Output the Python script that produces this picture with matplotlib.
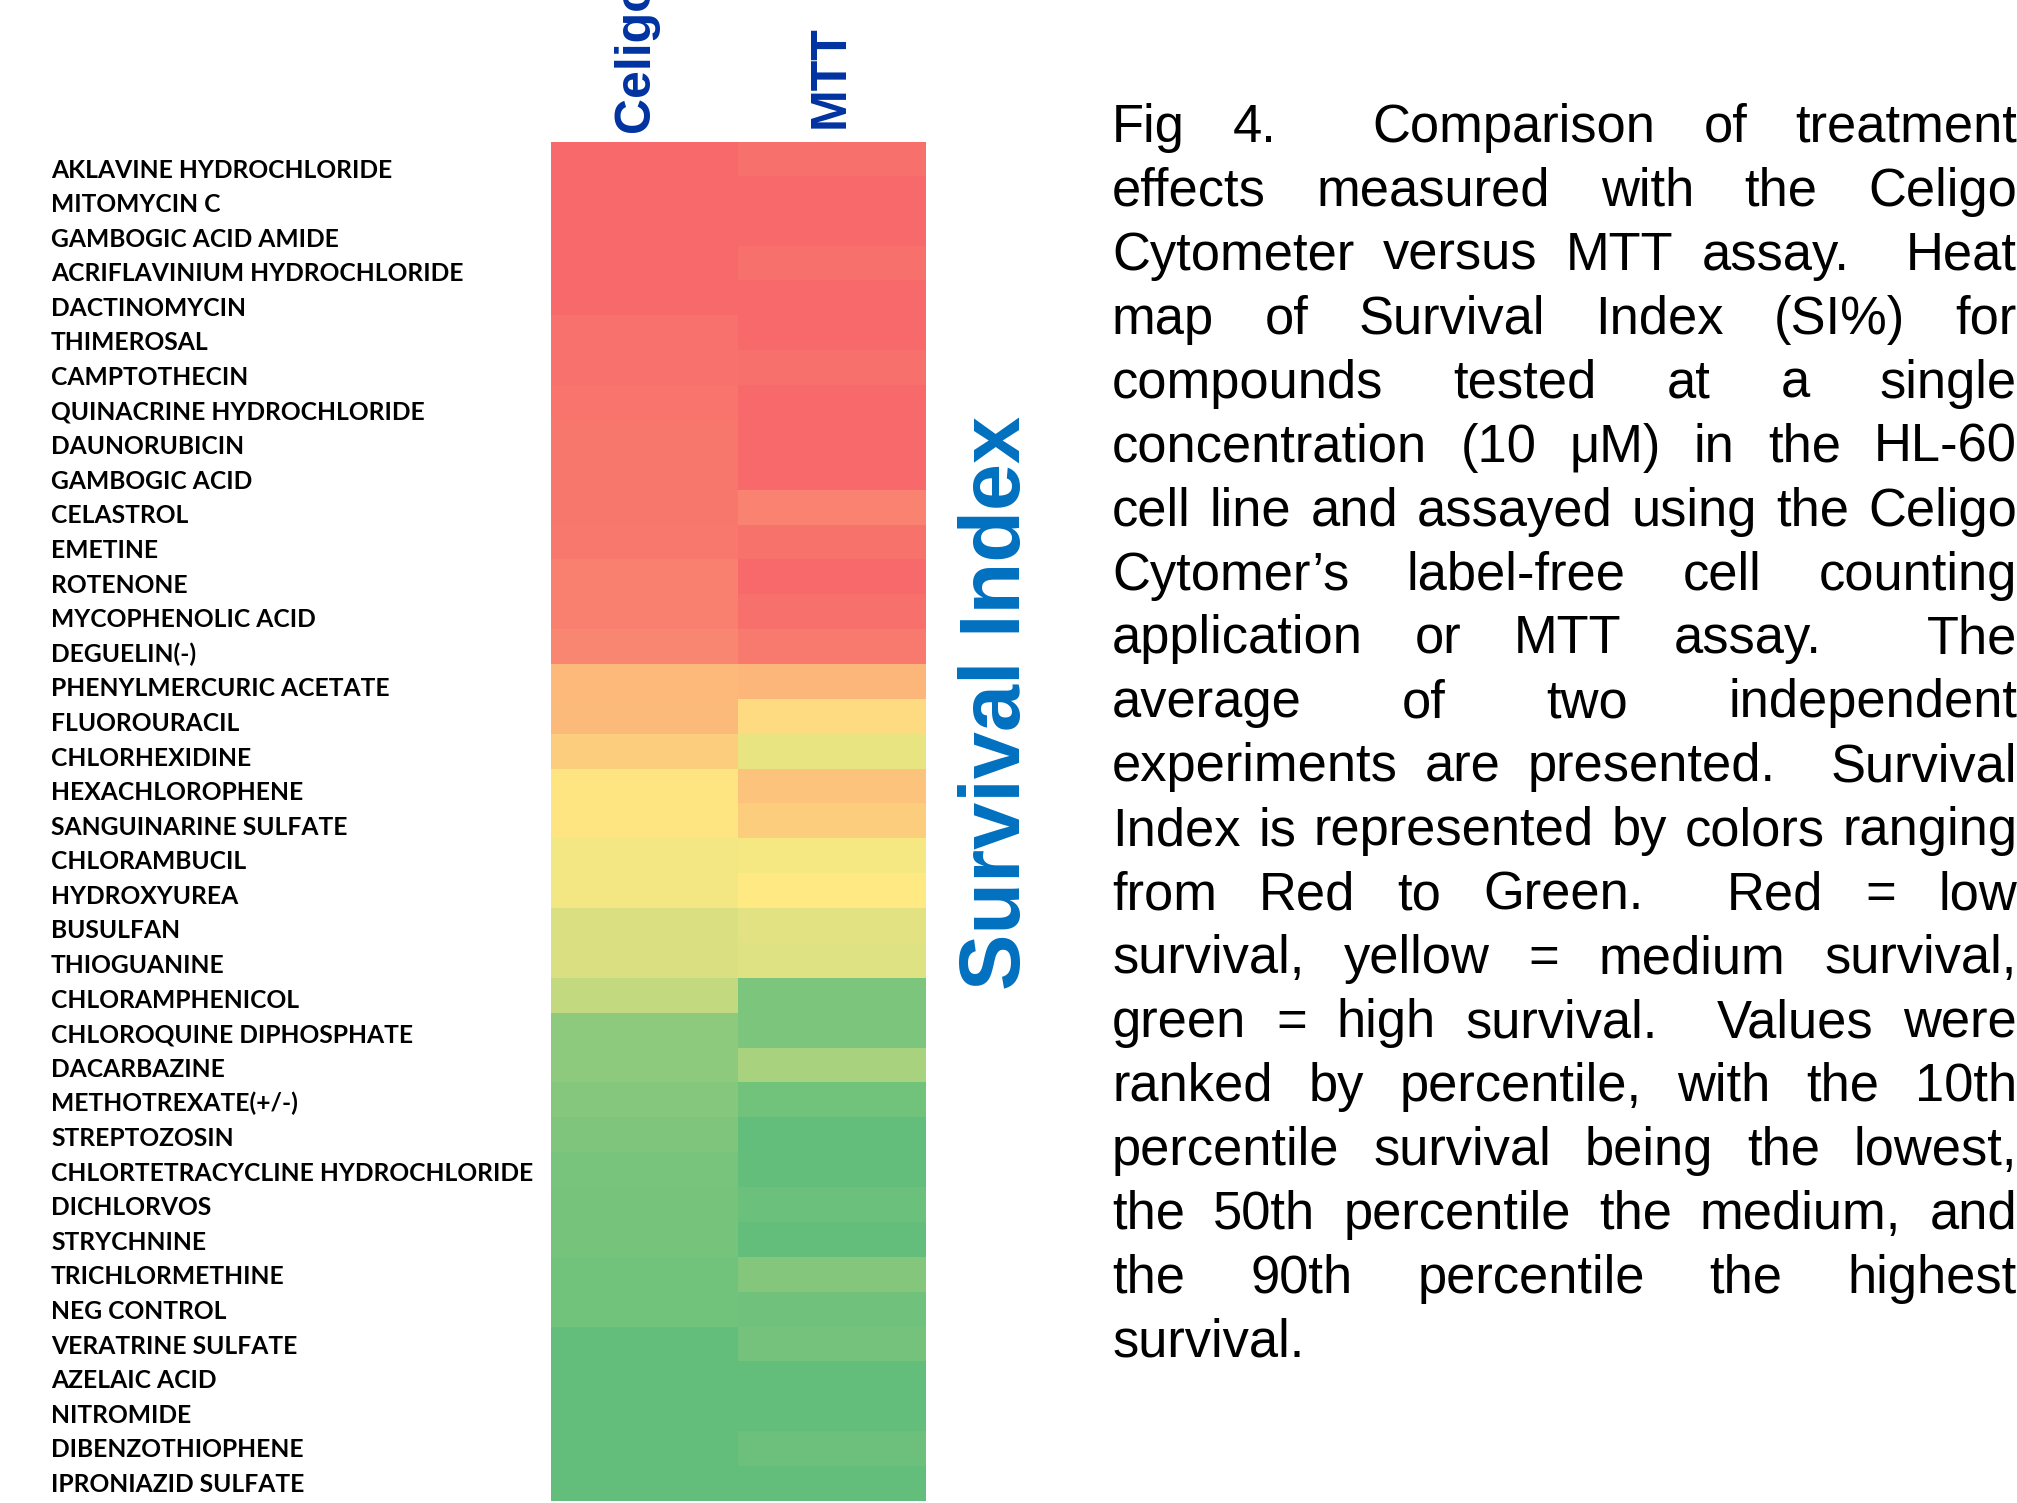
import numpy as np
import matplotlib
matplotlib.use('Agg')
import matplotlib.pyplot as plt
from matplotlib.colors import LinearSegmentedColormap

compounds = [
    'AKLAVINE HYDROCHLORIDE', 'MITOMYCIN C', 'GAMBOGIC ACID AMIDE',
    'ACRIFLAVINIUM HYDROCHLORIDE', 'DACTINOMYCIN', 'THIMEROSAL', 'CAMPTOTHECIN',
    'QUINACRINE HYDROCHLORIDE', 'DAUNORUBICIN', 'GAMBOGIC ACID', 'CELASTROL',
    'EMETINE', 'ROTENONE', 'MYCOPHENOLIC ACID', 'DEGUELIN(-)',
    'PHENYLMERCURIC ACETATE', 'FLUOROURACIL', 'CHLORHEXIDINE', 'HEXACHLOROPHENE',
    'SANGUINARINE SULFATE', 'CHLORAMBUCIL', 'HYDROXYUREA', 'BUSULFAN',
    'THIOGUANINE', 'CHLORAMPHENICOL', 'CHLOROQUINE DIPHOSPHATE', 'DACARBAZINE',
    'METHOTREXATE(+/-)', 'STREPTOZOSIN', 'CHLORTETRACYCLINE HYDROCHLORIDE',
    'DICHLORVOS', 'STRYCHNINE', 'TRICHLORMETHINE', 'NEG CONTROL',
    'VERATRINE SULFATE', 'AZELAIC ACID', 'NITROMIDE', 'DIBENZOTHIOPHENE',
    'IPRONIAZID SULFATE',
]
columns = ['Celigo', 'MTT']

# relative survival score (0 = lowest, 1 = highest)
celigo = [0.00, 0.00, 0.00, 0.00, 0.00, 0.035, 0.035, 0.045, 0.055, 0.055,
          0.058, 0.06, 0.088, 0.092, 0.115, 0.31, 0.315, 0.39, 0.48, 0.48,
          0.54, 0.54, 0.615, 0.615, 0.695, 0.862, 0.862, 0.888, 0.907, 0.926,
          0.936, 0.936, 0.952, 0.952, 1.00, 1.00, 1.00, 1.00, 1.00]
mtt = [0.03, 0.00, 0.00, 0.03, 0.00, 0.00, 0.03, 0.00, 0.00, 0.00,
       0.104, 0.038, 0.00, 0.03, 0.065, 0.30, 0.44, 0.567, 0.35, 0.39,
       0.53, 0.496, 0.59, 0.60, 0.92, 0.92, 0.77, 0.95, 1.00, 1.00,
       0.97, 1.00, 0.894, 0.958, 0.942, 1.00, 0.997, 0.965, 1.00]

caption_lines = [
    'Fig 4.  Comparison of treatment',
    'effects measured with the Celigo',
    'Cytometer versus MTT assay.  Heat',
    'map of Survival Index (SI%) for',
    'compounds tested at a single',
    'concentration (10 \u03bcM) in the HL-60',
    'cell line and assayed using the Celigo',
    'Cytomer\u2019s label-free cell counting',
    'application or MTT assay.  The',
    'average of two independent',
    'experiments are presented.  Survival',
    'Index is represented by colors ranging',
    'from Red to Green.  Red = low',
    'survival, yellow = medium survival,',
    'green = high survival.  Values were',
    'ranked by percentile, with the 10th',
    'percentile survival being the lowest,',
    'the 50th percentile the medium, and',
    'the 90th percentile the highest',
    'survival.',
]

W, H = 2017, 1503
fig = plt.figure(figsize=(W / 100, H / 100), dpi=100)
fig.patch.set_facecolor('white')

def fx(px):
    return px / W

def fy(py):
    return 1 - py / H

cmap = LinearSegmentedColormap.from_list('excel_ryg', ['#F8696B', '#FFEB84', '#63BE7B'])

# heatmap
top, bottom, left, right = 141.5, 1501, 551, 925
ax = fig.add_axes([fx(left), fy(bottom), fx(right - left), (bottom - top) / H])
data = np.column_stack([celigo, mtt])
ax.imshow(data, cmap=cmap, vmin=0, vmax=1, aspect='auto', interpolation='nearest')
ax.axis('off')

# compound labels
for i, name in enumerate(compounds):
    fig.text(fx(51), fy(177.5 + 34.59 * i), name, family='Lato', weight='bold',
             fontsize=17.7, color='black', ha='left', va='baseline')

# column headers
header_color = '#0033A0'
fig.text(fx(649), fy(132), columns[0], rotation=90, rotation_mode='anchor',
         ha='left', va='baseline', family='Liberation Sans', weight='bold',
         fontsize=36, color=header_color)
fig.text(fx(844), fy(128), columns[1], rotation=90, rotation_mode='anchor',
         ha='left', va='baseline', family='Liberation Sans', weight='bold',
         fontsize=36, color=header_color)

# side title
fig.text(fx(1020), fy(990), 'Survival Index', rotation=90, rotation_mode='anchor',
         ha='left', va='baseline', family='Liberation Sans', weight='bold',
         fontsize=61, color='#0070C0')

# justified caption
renderer = fig.canvas.get_renderer()
cap_left, cap_right = 1112, 2017
cap_kw = dict(family='Liberation Sans', fontsize=37.8, color='black', va='baseline', ha='left')

def text_width(s):
    t = fig.text(0, 0, s, **cap_kw)
    w = t.get_window_extent(renderer).width
    t.remove()
    return w

space_w = text_width('a a') - text_width('aa')

for n, line in enumerate(caption_lines):
    y = fy(142 + 63.93 * n)
    if n == len(caption_lines) - 1:
        fig.text(fx(cap_left), y, line, **cap_kw)
        continue
    tokens = line.split(' ')
    words = [t for t in tokens if t]
    widths = [text_width(w) for w in words]
    n_spaces = line.count(' ')
    extra = (cap_right - cap_left - sum(widths) - n_spaces * space_w) / n_spaces
    x = cap_left
    k = 0
    for tok in tokens:
        if tok == '':
            x += space_w + extra
            continue
        fig.text(fx(x), y, tok, **cap_kw)
        x += widths[k] + space_w + extra
        k += 1

fig.savefig('out.png', dpi=100, facecolor='white')
